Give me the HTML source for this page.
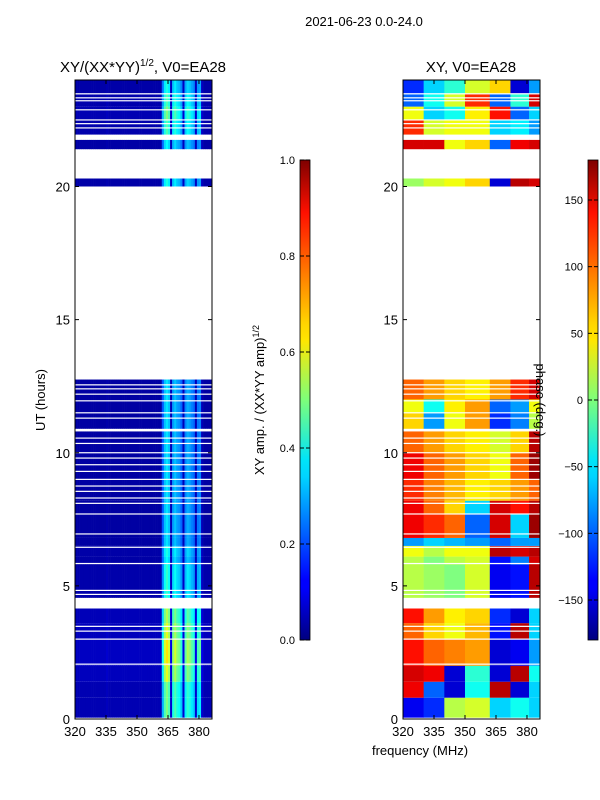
<!DOCTYPE html>
<html><head><meta charset="utf-8"><style>
body{margin:0;background:#fff}
svg{display:block;font-family:"Liberation Sans",sans-serif}
</style></head><body>
<svg id="c" width="600" height="800" viewBox="0 0 600 800">
<defs>
<linearGradient id="jet" x1="0" y1="1" x2="0" y2="0">
<stop offset="0" stop-color="#00007f"/><stop offset="0.11" stop-color="#0000ff"/><stop offset="0.125" stop-color="#0000ff"/>
<stop offset="0.34" stop-color="#00d4ff"/><stop offset="0.375" stop-color="#00e5f8"/><stop offset="0.5" stop-color="#7dff7a"/><stop offset="0.625" stop-color="#ffe600"/>
<stop offset="0.66" stop-color="#ffd400"/><stop offset="0.89" stop-color="#ff1000"/><stop offset="1" stop-color="#7f0000"/>
</linearGradient>
</defs>
<text x="364" y="26" font-size="13" text-anchor="middle">2021-06-23 0.0-24.0</text>
<text x="143" y="72" font-size="15" text-anchor="middle">XY/(XX*YY)<tspan font-size="10" dy="-6">1/2</tspan><tspan dy="6">, V0=EA28</tspan></text>
<text x="471" y="72" font-size="15" text-anchor="middle">XY, V0=EA28</text>
<g id="ampPanel"></g>
<g id="phPanel"></g>
<g id="axes"></g>
<text transform="translate(45,400) rotate(-90)" font-size="13" text-anchor="middle">UT (hours)</text>
<text x="420" y="755" font-size="13" text-anchor="middle">frequency (MHz)</text>
<rect x="300" y="160" width="10" height="480" fill="url(#jet)" stroke="#000" stroke-width="0.8"/>
<rect x="588" y="160" width="10" height="480" fill="url(#jet)" stroke="#000" stroke-width="0.8"/>
<text transform="translate(264,400) rotate(-90)" font-size="13" text-anchor="middle">XY amp. / (XX*YY amp)<tspan font-size="9" dy="-5">1/2</tspan></text>
<text transform="translate(536,400) rotate(90)" font-size="13" text-anchor="middle">phase (deg.)</text>
<g id="cbticks"></g>
</svg>
<script>
const yTicks=[0,5,10,15,20];
const xTicks=[320,335,350,365,380];
const ampCbTicks=[0.0,0.2,0.4,0.6,0.8,1.0];
const phCbTicks=[-150,-100,-50,0,50,100,150];
const ampProfile=[0.05,0.05,0.05,0.05,0.05,0.05,0.05,0.05,0.05,0.05,0.05,0.05,0.05,0.05,0.05,0.06,0.05,0.05,0.05,0.05,
0.05,0.05,0.05,0.05,0.05,0.05,0.05,0.05,0.05,0.05,0.05,0.05,0.05,0.05,0.05,0.05,0.05,0.05,0.05,0.05,0.05,0.05,
0.3,0.45,0.5,0.45,0.08,0.4,0.45,0.4,0.38,0.32,0.08,0.36,0.42,0.4,0.36,0.33,0.08,0.34,0.36,0.08,0.05,0.05,0.05,0.05];
const rowStarts=[0.05,0.8,1.4,2.0,3.0,3.6,4.55,5.8,6.1,6.5,6.8,7.7,8.2,9.0,10.0,10.9,11.5,12.0,20.0,21.4,21.95,22.5,23.0,23.5];
const rowEnds=[0.8,1.4,2.0,3.0,3.6,4.15,5.8,6.1,6.5,6.8,7.7,8.2,9.0,10.0,10.8,11.5,12.0,12.75,20.3,21.75,22.5,23.0,23.5,24.0];
const ampRowLevel=[1.0,1.0,1.2,1.3,1.2,1.1,0.85,0.75,0.8,0.7,0.7,0.7,0.7,0.7,0.7,0.7,0.7,0.7,0.8,0.75,0.9,1.0,0.9,0.8];
const phaseGrid=[
[-140,-120,20,30,-60,-40,-60],[140,-100,-150,-40,160,-150,-60],[150,140,-150,-30,-150,160,-40],
[130,100,90,80,-150,-140,-80],[100,60,40,70,-130,160,-60],[130,80,50,60,-120,-150,-60],
[20,10,0,30,-140,-130,160],[20,0,20,30,-130,-90,150],[40,20,40,40,160,150,160],
[-80,-60,-70,-80,-100,-80,-80],[140,120,100,-100,150,-60,170],[140,100,60,-60,150,130,160],
[120,90,70,50,60,80,100],[140,100,80,60,40,100,170],[100,80,60,50,30,60,160],
[60,-80,40,80,-120,-90,20],[40,-40,50,80,-100,-80,40],[100,80,60,50,80,120,150],
[10,30,40,60,-150,160,150],[150,150,40,60,-100,140,150],[120,30,40,40,-60,-50,-80],
[40,-60,-40,50,130,-100,-60],[-100,-40,30,120,-100,-30,150],[-120,-60,-30,30,60,-150,-80]];
const phaseBinEdges=[320,330,340,350,362,372,381,386.3];
const whiteLines=[2.06,3.0,3.3,3.48,4.68,4.83,5.84,6.45,6.95,7.7,8.1,8.3,8.55,8.75,9.0,9.3,9.55,9.8,10.0,10.35,10.55,11.3,11.5,11.95,12.2,12.4,12.55,22.2,22.36,22.5,22.88,23.22,23.33,23.48];
const NS='http://www.w3.org/2000/svg';
const PY0=719,PY1=80,XMIN=320,XMAX=386.3;
function yS(h){return PY0-(h/24)*(PY0-PY1);}
function xS(f,left){return left+(f-XMIN)/(XMAX-XMIN)*137;}
function jet(v){v=Math.max(0,Math.min(1,v));
 const r=Math.max(0,Math.min(1,1.5-Math.abs(4*v-3))),g=Math.max(0,Math.min(1,1.5-Math.abs(4*v-2))),b=Math.max(0,Math.min(1,1.5-Math.abs(4*v-1)));
 return `rgb(${Math.round(r*255)},${Math.round(g*255)},${Math.round(b*255)})`;}
function mk(p,tag,a){const e=document.createElementNS(NS,tag);for(const k in a)e.setAttribute(k,a[k]);p.appendChild(e);return e;}
const amp=document.getElementById('ampPanel'),ph=document.getElementById('phPanel');
rowStarts.forEach((s,i)=>{
 const y0=yS(rowEnds[i]),y1=yS(s);
 ampProfile.forEach((v,c)=>{
  const r=mk(amp,'rect',{x:xS(320+c,75),y:y0,width:137/66+0.3,height:y1-y0,fill:jet(v*ampRowLevel[i])});
  
  
 });
 phaseGrid[i].forEach((v,b)=>{
  const xa=xS(phaseBinEdges[b],403),xb=xS(phaseBinEdges[b+1],403);
  const r=mk(ph,'rect',{x:xa,y:y0,width:xb-xa+0.3,height:y1-y0,fill:jet((v+180)/360)});
  
  
 });
});
[75,403].forEach(L=>{whiteLines.forEach(h=>{
 const r=mk(L===75?amp:ph,'rect',{x:L,y:yS(h)-0.6,width:137,height:1.2,fill:'#fff'});
 
 
});});
const ax=document.getElementById('axes');
[75,403].forEach(L=>{
 const f=mk(ax,'rect',{x:L,y:PY1,width:137,height:PY0-PY1,fill:'none',stroke:'#000','stroke-width':1});
 
 
 yTicks.forEach(t=>{const y=yS(t);
  mk(ax,'line',{x1:L,x2:L+4,y1:y,y2:y,stroke:'#000'});mk(ax,'line',{x1:L+137,x2:L+133,y1:y,y2:y,stroke:'#000'});
  const tx=mk(ax,'text',{x:L-5,y:y+5,'font-size':13,'text-anchor':'end'});tx.textContent=t;
  
  
 });
 xTicks.forEach(t=>{const x=xS(t,L);
  mk(ax,'line',{x1:x,x2:x,y1:PY0,y2:PY0-4,stroke:'#000'});mk(ax,'line',{x1:x,x2:x,y1:PY1,y2:PY1+4,stroke:'#000'});
  const tx=mk(ax,'text',{x:x,y:PY0+17,'font-size':13,'text-anchor':'middle'});tx.textContent=t;
  
  
 });
});
const cb=document.getElementById('cbticks');
ampCbTicks.forEach(t=>{const y=640-t*480;
 mk(cb,'line',{x1:300,x2:304,y1:y,y2:y,stroke:'#000'});mk(cb,'line',{x1:310,x2:306,y1:y,y2:y,stroke:'#000'});
 const tx=mk(cb,'text',{x:295,y:y+4,'font-size':11,'text-anchor':'end'});tx.textContent=t.toFixed(1);
 
 
});
phCbTicks.forEach(t=>{const y=640-(t+180)/360*480;
 mk(cb,'line',{x1:588,x2:592,y1:y,y2:y,stroke:'#000'});mk(cb,'line',{x1:598,x2:594,y1:y,y2:y,stroke:'#000'});
 const tx=mk(cb,'text',{x:583,y:y+4,'font-size':11,'text-anchor':'end'});tx.textContent=t<0?'\u2212'+(-t):t;
 
 
});
</script>
</body></html>
